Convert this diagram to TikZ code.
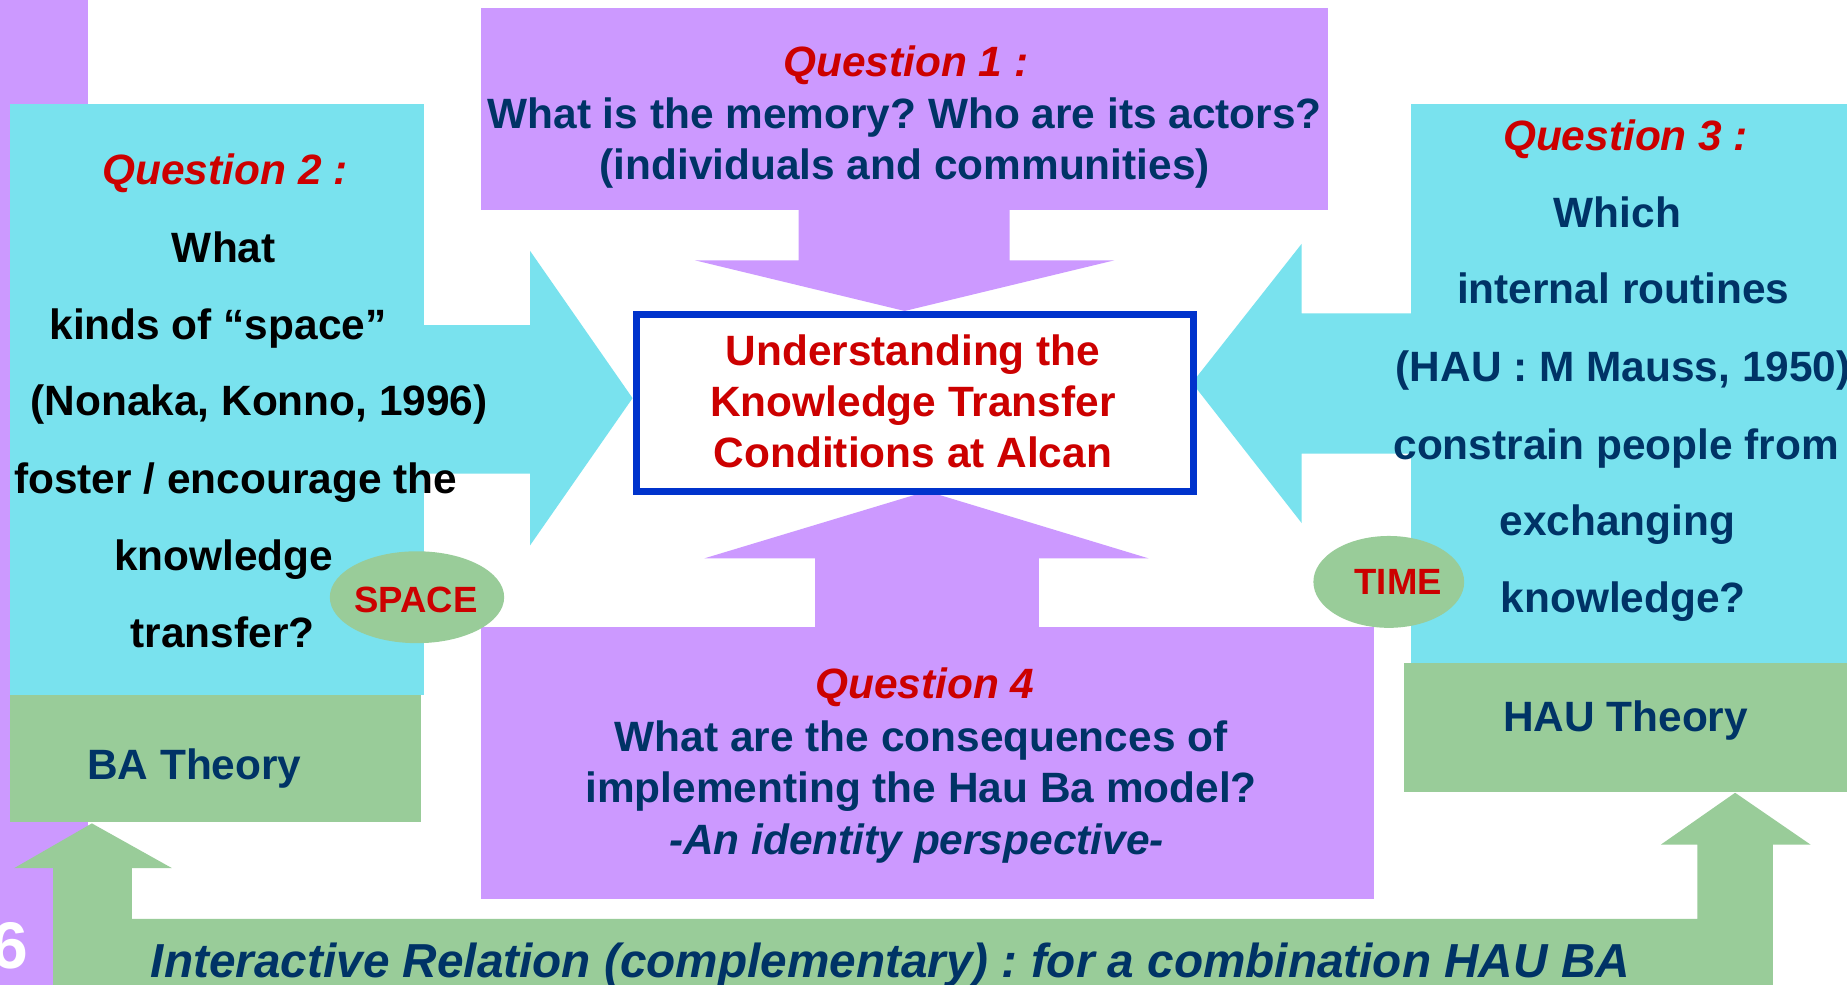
\documentclass[tikz,border=0pt]{standalone}
\usepackage{fontspec}
\setmainfont{Liberation Sans}
\frenchspacing
\definecolor{lav}{HTML}{CC99FF}
\definecolor{cyanb}{HTML}{79E2EE}
\definecolor{grn}{HTML}{99CC99}
\definecolor{navy}{HTML}{003366}
\definecolor{qred}{HTML}{CC0000}
\definecolor{bord}{HTML}{0033CC}
\usetikzlibrary{shapes.geometric}
\begin{document}
\frenchspacing
\begin{tikzpicture}[x=1pt,y=-1pt,
  ln/.style={font=\fontsize{36}{40}\selectfont\bfseries,anchor=base,inner sep=0pt},
  qt/.style={ln,font=\fontsize{36}{40}\selectfont\bfseries\itshape,text=qred},
  ell/.style={ellipse,fill=grn,inner sep=0pt},
  tag/.style={font=\fontsize{31}{34}\selectfont\bfseries,text=qred,anchor=base,inner sep=0pt},
  box/.style={rectangle,inner sep=0pt,anchor=north west}]
\useasboundingbox (0,0) rectangle (1568,836);
\fill[white] (0,0) rectangle (1568,836);
% purple strip at left
\fill[lav] (0,0) rectangle (75,836);
% Q2 box and BA box
\node[box,fill=cyanb,minimum width=352pt,minimum height=502pt] (q2box) at (8,88) {};
\node[box,fill=grn,minimum width=349pt,minimum height=108pt] (babox) at (8,590) {};
% arrow from Q2 to centre
\fill[cyanb] (359,276) -- (450,276) -- (450,213) -- (537,338) -- (450,463) -- (450,402) -- (359,402) -- cycle;
% Q1 box and down arrow
\node[box,fill=lav,minimum width=719pt,minimum height=171pt] (q1box) at (408,7) {};
\fill[lav] (678,177) -- (857,177) -- (857,221) -- (946,221) -- (768,264) -- (590,221) -- (678,221) -- cycle;
% Q3 box and HAU box
\node[box,fill=cyanb,minimum width=380pt,minimum height=475pt] (q3box) at (1198,88) {};
\node[box,fill=grn,minimum width=386pt,minimum height=109pt] (haubox) at (1192,563) {};
% arrow from Q3 to centre
\fill[cyanb] (1199,266) -- (1105,266) -- (1105,207) -- (1012,325) -- (1105,444) -- (1105,385) -- (1199,385) -- cycle;
% Q4 box and up arrow
\node[box,fill=lav,minimum width=758pt,minimum height=231pt] (q4box) at (408,532) {};
\fill[lav] (692,533) -- (692,474) -- (598,474) -- (787,417) -- (975,474) -- (882,474) -- (882,533) -- cycle;
% centre box
\node[box,draw=bord,line width=6pt,fill=white,minimum width=473pt,minimum height=150pt] (centre) at (537,264) {};
% ellipses
\node[ell,minimum width=148pt,minimum height=78pt] (spaceell) at (354,507) {};
\node[ell,minimum width=128pt,minimum height=78pt] (timeell) at (1179,494) {};
% bottom green connector
\fill[grn] (45,836) -- (45,737) -- (12,737) -- (78,699) -- (146,737) -- (112,737) -- (112,780)
  -- (1441,780) -- (1441,717) -- (1410,717) -- (1473,673) -- (1537,717) -- (1505,717) -- (1505,836) -- cycle;
% page number
\node[anchor=base west,inner sep=0pt,text=white,font=\fontsize{56}{60}\selectfont\bfseries] (pnum) at (-7,822) {6};
% Q1 text
\node[qt] (q1a) at (769,65) {Question 1 :};
\node[ln,text=navy] (q1b) at (768,109) {What is the memory? Who are its actors?};
\node[ln,text=navy] (q1c) at (768,152) {(individuals and communities)};
% centre text
\node[ln,text=qred] (c1) at (775,310) {Understanding the};
\node[ln,text=qred] (c2) at (775,354) {Knowledge Transfer};
\node[ln,text=qred] (c3) at (775,397) {Conditions at Alcan};
% Q2 text
\node[qt] (q2a) at (191,157) {Question 2 :};
\node[ln] (q2b) at (190,223) {What};
\node[ln] (q2c) at (185,288) {kinds of “space”};
\node[ln] (q2d) at (220,353) {(Nonaka, Konno, 1996)};
\node[ln] (q2e) at (200,419) {foster / encourage the};
\node[ln] (q2f) at (190,484) {knowledge};
\node[ln] (q2g) at (189,550) {transfer?};
\node[ln,text=navy] (ba) at (165,662) {BA Theory};
% Q3 text
\node[qt] (q3a) at (1380,128) {Question 3 :};
\node[ln,text=navy] (q3b) at (1373,193) {Which};
\node[ln,text=navy] (q3c) at (1378,258) {internal routines};
\node[ln,text=navy] (q3d) at (1378,324) {(HAU : M Mauss, 1950)};
\node[ln,text=navy] (q3e) at (1372,390) {constrain people from};
\node[ln,text=navy] (q3f) at (1373,455) {exchanging};
\node[ln,text=navy] (q3g) at (1378,520) {knowledge?};
\node[ln,text=navy] (hau) at (1380,621) {HAU Theory};
% Q4 text
\node[qt] (q4a) at (785,593) {Question 4};
\node[ln,text=navy] (q4b) at (782,638) {What are the consequences of};
\node[ln,text=navy] (q4c) at (782,681) {implementing the Hau Ba model?};
\node[ln,text=navy,font=\fontsize{36}{40}\selectfont\bfseries\itshape] (q4d) at (778,725) {-An identity perspective-};
% tags
\node[tag] (spacetxt) at (353,520) {SPACE};
\node[tag] (timetxt) at (1187,505) {TIME};
% bottom text
\node[anchor=base,inner sep=0pt,text=navy,font=\fontsize{40.5}{44}\selectfont\bfseries\itshape] (bottom) at (756,830) {Interactive Relation (complementary) : for a combination HAU BA};
\end{tikzpicture}
\end{document}
